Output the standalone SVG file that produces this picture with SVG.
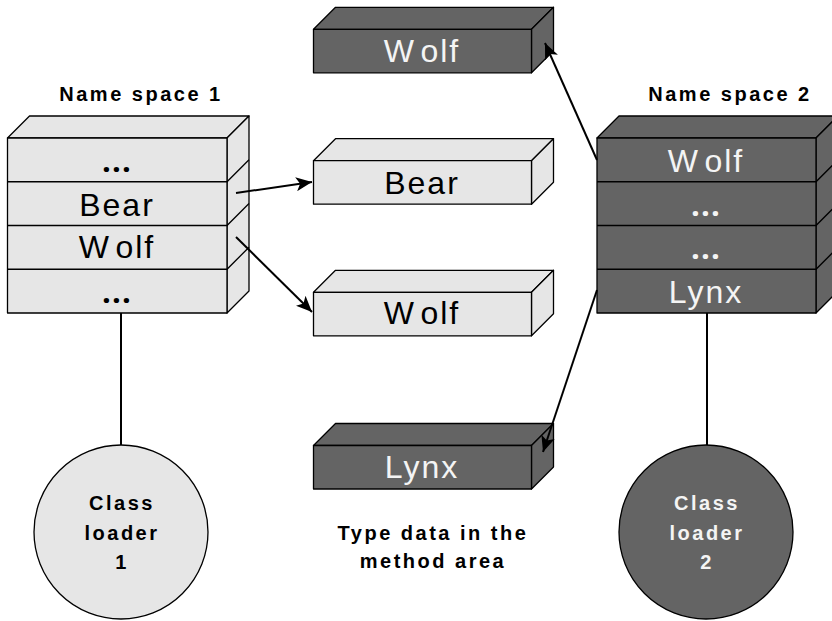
<svg xmlns="http://www.w3.org/2000/svg" width="832" height="621" viewBox="0 0 832 621">
  <style>
    .light { fill: #e6e6e6; stroke: #000; stroke-width: 1.3; stroke-linejoin: round; }
    .dark { fill: #646464; stroke: #000; stroke-width: 1.3; stroke-linejoin: round; }
    .sep { fill: none; stroke: #000; stroke-width: 1.3; }
    .lbl { font-family: "Liberation Sans", Arial, sans-serif; font-size: 32px; letter-spacing: 2px; text-anchor: middle; }
    .dots { font-family: "Open Sans", "Liberation Sans", sans-serif; font-size: 31px; font-weight: bold; letter-spacing: 1.2px; text-anchor: middle; }
    .title { font-family: "Liberation Sans", Arial, sans-serif; font-size: 20px; font-weight: bold; letter-spacing: 2.5px; text-anchor: middle; fill: #000; }
    .blk { fill: #000; }
    .wht { fill: #f4f4f4; }
    .conn { fill: none; stroke: #000; stroke-width: 2; }
  </style>
  <defs>
    <marker id="arrow" markerUnits="userSpaceOnUse" markerWidth="18" markerHeight="14" refX="16" refY="7" orient="auto">
      <path d="M0,0 L16,7 L0,14 L4,7 z" fill="#000"/>
    </marker>
  </defs>

  <!-- name space 1 -->
  <g id="namespace1">
    <text class="title" x="141" y="100.5">Name space 1</text>
    <polygon class="light" points="7.5,138 29.5,116 249,116 227,138"/>
    <polygon class="light" points="227,138 249,116 249,291 227,313"/>
    <rect class="light" x="7.5" y="138" width="219.5" height="175"/>
    <path class="sep" d="M7.5,181.75 H227 L249,159.75 M7.5,225.5 H227 L249,203.5 M7.5,269.25 H227 L249,247.25"/>
    <text class="dots blk" x="117" y="172">...</text>
    <text class="lbl blk" x="117" y="216">Bear</text>
    <text class="lbl blk" x="117" y="258">W<tspan dx="5">olf</tspan></text>
    <text class="dots blk" x="117" y="303">...</text>
  </g>

  <!-- name space 2 -->
  <g id="namespace2">
    <text class="title" x="730" y="100.5">Name space 2</text>
    <polygon class="dark" points="597,138 619,116 838,116 816,138"/>
    <polygon class="dark" points="816,138 838,116 838,291 816,313"/>
    <rect class="dark" x="597" y="138" width="219" height="175"/>
    <path class="sep" d="M597,181.75 H816 L838,159.75 M597,225.5 H816 L838,203.5 M597,269.25 H816 L838,247.25"/>
    <text class="lbl wht" x="706" y="172">W<tspan dx="5">olf</tspan></text>
    <text class="dots wht" x="706" y="216">...</text>
    <text class="dots wht" x="706" y="259">...</text>
    <text class="lbl wht" x="706" y="303">Lynx</text>
  </g>

  <!-- method area type data -->
  <g id="type-wolf-2">
    <polygon class="dark" points="313.5,29.3 335.5,7.3 553.5,7.3 531.5,29.3"/>
    <polygon class="dark" points="531.5,29.3 553.5,7.3 553.5,50.8 531.5,72.8"/>
    <rect class="dark" x="313.5" y="29.3" width="218" height="43.5"/>
    <text class="lbl wht" x="422" y="62">W<tspan dx="5">olf</tspan></text>
  </g>

  <g id="type-bear-1">
    <polygon class="light" points="313.5,160.7 335.5,138.7 553.5,138.7 531.5,160.7"/>
    <polygon class="light" points="531.5,160.7 553.5,138.7 553.5,182.2 531.5,204.2"/>
    <rect class="light" x="313.5" y="160.7" width="218" height="43.5"/>
    <text class="lbl blk" x="422" y="193.5">Bear</text>
  </g>

  <g id="type-wolf-1">
    <polygon class="light" points="313.5,292.3 335.5,270.3 553.5,270.3 531.5,292.3"/>
    <polygon class="light" points="531.5,292.3 553.5,270.3 553.5,313.8 531.5,335.8"/>
    <rect class="light" x="313.5" y="292.3" width="218" height="43.5"/>
    <text class="lbl blk" x="422" y="324">W<tspan dx="5">olf</tspan></text>
  </g>

  <g id="type-lynx-2">
    <polygon class="dark" points="313.5,445.5 335.5,423.5 553.5,423.5 531.5,445.5"/>
    <polygon class="dark" points="531.5,445.5 553.5,423.5 553.5,467 531.5,489"/>
    <rect class="dark" x="313.5" y="445.5" width="218" height="43.5"/>
    <text class="lbl wht" x="422" y="478">Lynx</text>
  </g>

  <g id="method-area-label">
    <text class="title" x="433" y="540">Type data in the</text>
    <text class="title" x="433" y="568">method area</text>
  </g>

  <!-- class loaders -->
  <g id="classloader1">
    <circle class="light" cx="121" cy="532" r="87"/>
    <text class="title" x="122" y="510">Class</text>
    <text class="title" x="122" y="540">loader</text>
    <text class="title" x="122" y="569">1</text>
  </g>

  <g id="classloader2">
    <circle class="dark" cx="706" cy="532" r="87"/>
    <text class="title wht" x="707" y="510">Class</text>
    <text class="title wht" x="707" y="540">loader</text>
    <text class="title wht" x="707" y="569">2</text>
  </g>

  <!-- connectors, drawn last so arrowheads sit over the box faces -->
  <g id="connectors">
    <line class="conn" x1="121" y1="313" x2="121" y2="445"/>
    <line class="conn" x1="707" y1="313" x2="707" y2="445"/>
    <line class="conn" x1="236" y1="193" x2="312" y2="182" marker-end="url(#arrow)"/>
    <line class="conn" x1="236" y1="237" x2="312" y2="312" marker-end="url(#arrow)"/>
    <line class="conn" x1="597" y1="160" x2="545" y2="43" marker-end="url(#arrow)"/>
    <line class="conn" x1="597" y1="290" x2="543" y2="452" marker-end="url(#arrow)"/>
  </g>
</svg>
